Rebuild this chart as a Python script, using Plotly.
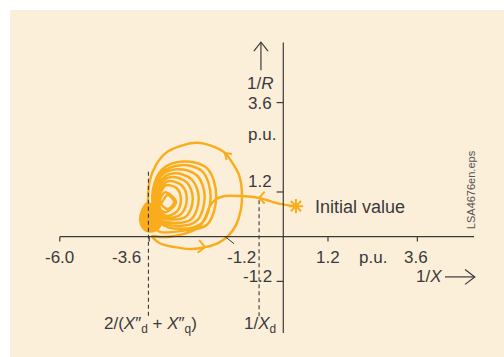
import plotly.graph_objects as go

# Trajectory of the apparent admittance 1/Z = (1/X, 1/R) in p.u.,
# starting at the initial value and spiralling toward 2/(X"d + X"q).
traj_x = [
    0.34, -0.09, -0.65, -1.16, -1.56, -1.80, -1.97, -2.08, -2.24, -2.50, -2.91, -3.31, -3.52,
    # first (largest) revolution
    -3.33, -2.91, -2.45, -2.10, -1.75, -1.48, -1.27, -1.14, -1.11, -1.19, -1.38, -1.57,
    -1.91, -2.32, -2.77, -3.15, -3.42, -3.58, -3.63, -3.61, -3.50, -3.31,
    # shrinking revolutions
    -2.69, -2.05, -1.80, -2.05, -2.69, -3.26, -3.52, -3.31,
    -2.75, -2.18, -1.95, -2.18, -2.75, -3.26, -3.50, -3.34,
    -2.83, -2.32, -2.11, -2.32, -2.85, -3.28, -3.47, -3.34,
    -2.91, -2.46, -2.27, -2.46, -2.93, -3.28, -3.44, -3.31,
    -2.99, -2.59, -2.43, -2.59, -3.01, -3.28, -3.42, -3.31,
    -3.07, -2.73, -2.59, -2.73, -3.09, -3.28, -3.39, -3.28,
    -3.15, -2.86, -2.75, -2.86, -3.15, -3.26, -3.36, -3.26,
    -3.15, -2.88, -3.18, -3.31,
    -3.10, -2.93, -3.10, -3.26,
    -3.45, -3.72, -3.50, -3.78, -3.45, -3.70, -3.50,
]
traj_y = [
    0.82, 0.88, 1.04, 1.09, 1.09, 1.01, 0.82, 0.55, 0.28, 0.13, 0.02, -0.01, 0.02,
    -0.17, -0.28, -0.33, -0.28, -0.17, 0.02, 0.31, 0.72, 1.20, 1.66, 2.00, 2.25,
    2.43, 2.52, 2.43, 2.25, 1.92, 1.52, 1.07, 0.66, 0.31, 0.13,
    0.16, 0.32, 1.09, 1.84, 2.02, 1.80, 1.09, 0.37,
    0.21, 0.37, 1.07, 1.76, 1.92, 1.71, 1.07, 0.45,
    0.29, 0.43, 1.07, 1.65, 1.81, 1.63, 1.04, 0.50,
    0.37, 0.48, 1.04, 1.54, 1.70, 1.52, 1.04, 0.56,
    0.46, 0.56, 1.01, 1.46, 1.60, 1.44, 1.01, 0.61,
    0.51, 0.62, 1.01, 1.38, 1.49, 1.33, 0.99, 0.66,
    0.56, 0.67, 0.99, 1.30, 1.38, 1.25, 0.96, 0.69,
    0.66, 0.93, 1.19, 0.93,
    0.74, 0.93, 1.12, 0.93,
    0.75, 0.55, 0.45, 0.30, 0.35, 0.18, 0.20,
]

# Region where the trajectory finally settles
settle_x = [-3.66, -3.79, -3.85, -3.77, -3.58, -3.36, -3.28, -3.39, -3.52, -3.66]
settle_y = [0.90, 0.72, 0.45, 0.23, 0.13, 0.21, 0.39, 0.66, 0.85, 0.90]

initial_x = [0.34]
initial_y = [0.82]

# Axis ticks
x_ticks = [-6.0, -3.6, 1.2, 3.6]
y_ticks = [3.6, 1.2, -1.2]

# Characteristic admittances marked by dashed lines
x_subtransient = -3.62   # 2/(X"d + X"q)
x_synchronous = -0.65    # 1/Xd

ORANGE = "#f9ad1c"
INK = "#3a3a3a"
FONT = "Liberation Sans"

fig = go.Figure()

fig.add_trace(go.Scatter(
    x=settle_x, y=settle_y, mode="lines", fill="toself",
    fillcolor=ORANGE, line=dict(color=ORANGE, width=2, shape="spline"),
    hoverinfo="skip",
))
fig.add_trace(go.Scatter(
    x=traj_x, y=traj_y, mode="lines",
    line=dict(color=ORANGE, width=2.5, shape="spline"),
    hoverinfo="skip",
))
fig.add_trace(go.Scatter(
    x=initial_x, y=initial_y, mode="markers",
    marker=dict(symbol="asterisk-open", size=12, color=ORANGE,
                line=dict(color=ORANGE, width=2)),
    hoverinfo="skip",
))

shapes = []
axis_line = dict(color=INK, width=1.2)
# axes crossing at the origin
shapes.append(dict(type="line", x0=-6.0, x1=5.12, y0=0, y1=0, line=axis_line))
shapes.append(dict(type="line", x0=0, x1=0, y0=-2.585, y1=5.21, line=axis_line))
for t in x_ticks:
    shapes.append(dict(type="line", x0=t, x1=t, y0=0, y1=-0.13, line=axis_line))
for t in y_ticks:
    shapes.append(dict(type="line", x0=0, x1=-0.18, y0=t, y1=t, line=axis_line))
# leader for the -1.2 label
shapes.append(dict(type="line", x0=-1.56, x1=-1.32, y0=0, y1=-0.19, line=dict(color=INK, width=1)))

# dashed reference lines
dash = dict(color=INK, width=1.1, dash="4px,3px")
shapes.append(dict(type="line", x0=x_subtransient, x1=x_subtransient, y0=1.74, y1=-2.16, line=dash))
shapes.append(dict(type="line", x0=x_synchronous, x1=x_synchronous, y0=0.98, y1=-2.16, line=dash))

# axis direction arrows (open heads)
arrow_line = dict(color=INK, width=1.2)
shapes.append(dict(type="line", x0=-0.60, x1=-0.60, y0=4.47, y1=5.22, line=arrow_line))
shapes.append(dict(type="path", path="M -0.79,4.98 L -0.60,5.22 L -0.41,4.98", line=arrow_line))
shapes.append(dict(type="line", x0=4.34, x1=5.14, y0=-1.08, y1=-1.08, line=arrow_line))
shapes.append(dict(type="path", path="M 4.88,-0.88 L 5.14,-1.08 L 4.88,-1.28", line=arrow_line))

# direction chevrons on the trajectory
chev = dict(color=ORANGE, width=2)
shapes.append(dict(type="path", path="M -0.50,1.21 L -0.65,1.04 L -0.50,0.89", line=chev))
shapes.append(dict(type="path", path="M -2.26,-0.09 L -2.10,-0.28 L -2.30,-0.43", line=chev))
shapes.append(dict(type="path", path="M -1.38,2.22 L -1.57,2.25 L -1.52,2.06", line=chev))

# background panel
shapes.insert(0, dict(type="rect", xref="paper", yref="paper", x0=10 / 504, x1=1, y0=0, y1=1 - 10 / 357,
                      fillcolor="#fcefda", line=dict(width=0), layer="below"))

fig.update_layout(shapes=shapes)

def label(text, x, y, xanchor="center", yanchor="middle", size=17, color=INK, angle=0):
    fig.add_annotation(text=text, x=x, y=y, xanchor=xanchor, yanchor=yanchor,
                       showarrow=False, textangle=angle,
                       font=dict(family=FONT, size=size, color=color))

# x-axis labels
label("-6.0", -6.0, -0.55)
label("-3.6", -3.77, -0.55, xanchor="right")
label("-1.2", -1.135, -0.55)
label("1.2", 1.2, -0.55)
label("p.u.", 2.41, -0.55)
label("3.6", 3.56, -0.55)
label("1/<i>X</i>", 4.31, -1.08, xanchor="right")

# y-axis labels
label("1/<i>R</i>", -0.22, 4.12, xanchor="right")
label("3.6", -0.26, 3.58, xanchor="right")
label("p.u.", -0.14, 2.73, xanchor="right")
label("1.2", -0.26, 1.47, xanchor="right")
label("-1.2", -0.26, -1.08, xanchor="right")

label("Initial value", 0.79, 0.80, xanchor="left", size=18)
label("2/(<i>X</i>″<sub>d</sub> + <i>X</i>″<sub>q</sub>)", -3.56, -2.37)
label("1/<i>X</i><sub>d</sub>", -0.63, -2.37)
label("LSA4676en.eps", 5.06, 1.27, size=11, color="#555555", angle=-90)

fig.update_layout(
    width=504, height=357, autosize=False,
    margin=dict(l=0, r=0, t=0, b=0, pad=0),
    paper_bgcolor="white", plot_bgcolor="rgba(0,0,0,0)",
    showlegend=False,
    xaxis=dict(range=[-7.605, 5.925], visible=False, fixedrange=True),
    yaxis=dict(range=[-3.230, 6.354], visible=False, fixedrange=True),
)

fig.write_html("out.html")
